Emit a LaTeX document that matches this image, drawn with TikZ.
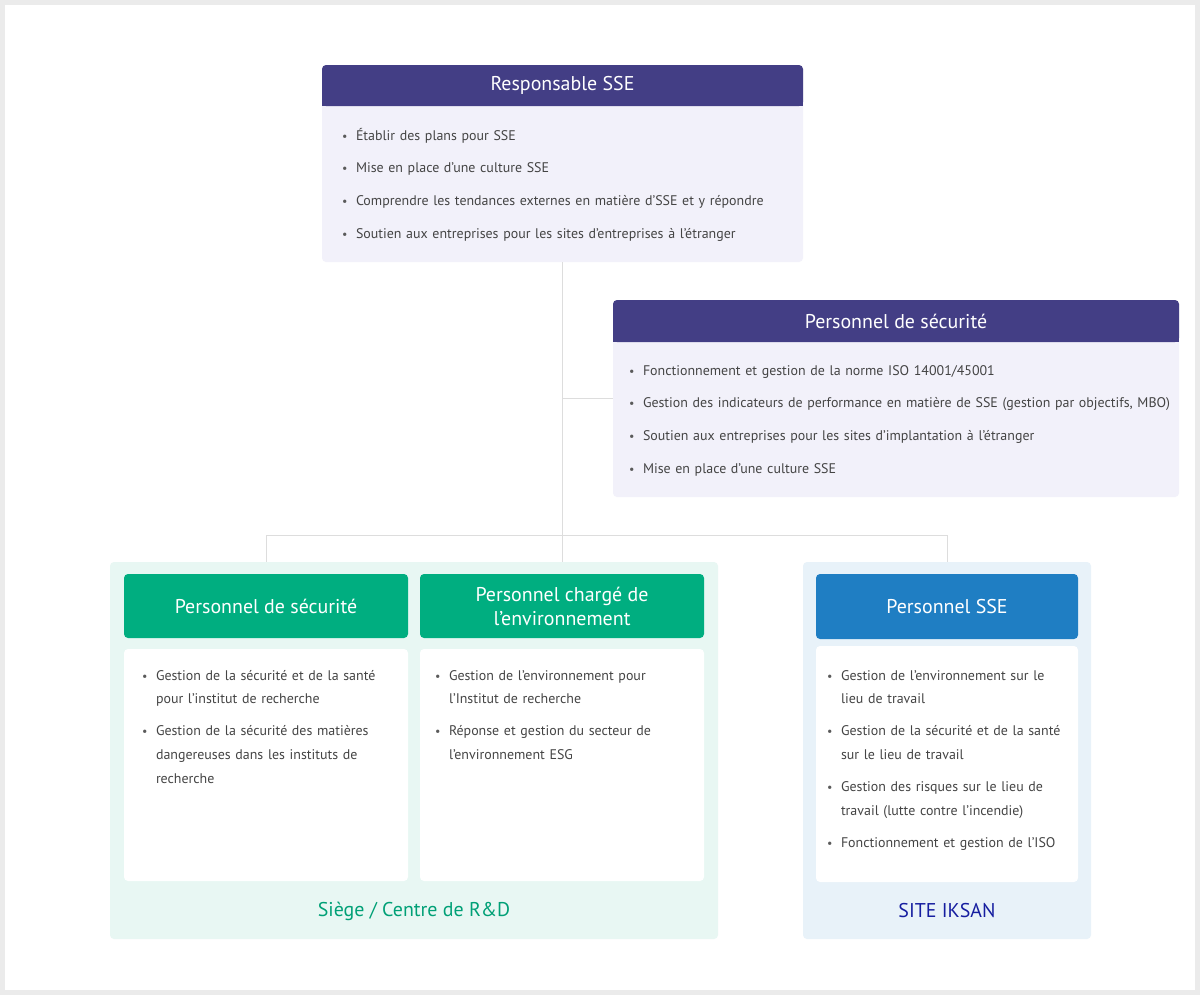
\documentclass[tikz,border=0pt]{standalone}
\usepackage{fontspec}
\setmainfont{PT Sans}
\usetikzlibrary{positioning, calc}
\definecolor{myviolet}{RGB}{67, 62,133}
\definecolor{myvioletclair}{RGB}{242,241,250}
\definecolor{myvert}{RGB}{0,174,128}
\definecolor{myvertclair}{RGB}{232,247,243}
\definecolor{myvertlabel}{RGB}{0,160,118}
\definecolor{mybleu}{RGB}{31,126,195}
\definecolor{mybleuclair}{RGB}{232,242,249}
\definecolor{mybleufonce}{RGB}{22,30,160}
\definecolor{mytexte}{RGB}{68,68,68}
\definecolor{mypuce}{RGB}{90,90,90}
\definecolor{myligne}{RGB}{221,221,221}
\definecolor{mycadre}{RGB}{235,235,235}

\newcommand{\puce}[1]{\hangindent=14bp\hangafter=1\noindent\makebox[14bp][l]{\raisebox{0bp}{\textcolor{mypuce}{\fontsize{12}{12}\selectfont\textbullet}}}\rule{0pt}{14bp}#1\par}

\begin{document}
\begin{tikzpicture}[
    x=1bp, y=-1bp,
    every node/.style = {inner sep=0pt, outer sep=0pt},
         fond/.style   = {rectangle, rounded corners=4bp, anchor=north west},
         entete/.style = {rectangle, rounded corners=4bp, text=white, align=center, font=\fontsize{20}{24}\selectfont},
         liste/.style  = {anchor=north west, text width=#1, align=left, text=mytexte, font=\fontsize{14}{24}\selectfont},
         label/.style  = {font=\fontsize{20}{24}\selectfont},
         lien/.style   = {draw=myligne, line width=1bp}
]

% cadre
\fill[mycadre] (0,0) rectangle (1200,995);
\fill[white] (5,5) rectangle (1195,990);

% Responsable SSE
\node[fond, fill=myvioletclair, minimum width=481bp, minimum height=197bp] (resp-fond) at (322,65) {};
\fill[myviolet] ($(resp-fond.north west)+(0,20)$) rectangle ($(resp-fond.north east)+(0,41)$);
\node[entete, fill=myviolet, minimum width=481bp, minimum height=41bp, below=0pt of resp-fond.north] (resp-titre) {Responsable SSE};
\node[liste=455bp] (resp-liste) at (342,126) {\setlength{\parskip}{9bp}%
    \puce{Établir des plans pour SSE}
    \puce{Mise en place d’une culture SSE}
    \puce{Comprendre les tendances externes en matière d’SSE et y répondre}
    \puce{Soutien aux entreprises pour les sites d’entreprises à l’étranger}};

% Personnel de sécurité (haut)
\node[fond, fill=myvioletclair, minimum width=566bp, minimum height=197bp] (perso-fond) at (613,300) {};
\fill[myviolet] ($(perso-fond.north west)+(0,20)$) rectangle ($(perso-fond.north east)+(0,42)$);
\node[entete, fill=myviolet, minimum width=566bp, minimum height=42bp, below=0pt of perso-fond.north] (perso-titre) {Personnel de sécurité};
\node[liste=545bp] (perso-liste) at (629,361) {\setlength{\parskip}{9bp}%
    \puce{Fonctionnement et gestion de la norme ISO 14001/45001}
    \puce{Gestion des indicateurs de performance en matière de SSE (gestion par objectifs, MBO)}
    \puce{Soutien aux entreprises pour les sites d’implantation à l’étranger}
    \puce{Mise en place d’une culture SSE}};

% Siege / Centre de R&D
\node[fond, fill=myvertclair, minimum width=608bp, minimum height=377bp] (siege) at (110,562) {};
\node[fond, entete, fill=myvert, minimum width=284bp, minimum height=64bp] (secu-titre) at (124,574) {Personnel de sécurité};
\node[fond, fill=white, minimum width=284bp, minimum height=232bp] (secu-corps) at (124,649) {};
\node[liste=262bp] (secu-liste) at (142,666) {\setlength{\parskip}{8bp}%
    \puce{Gestion de la sécurité et de la santé\newline pour l’institut de recherche}
    \puce{Gestion de la sécurité des matières\newline dangereuses dans les instituts de\newline recherche}};

\node[fond, entete, fill=myvert, minimum width=284bp, minimum height=64bp] (env-titre) at (420,574) {Personnel chargé de\\l’environnement};
\node[fond, fill=white, minimum width=284bp, minimum height=232bp] (env-corps) at (420,649) {};
\node[liste=262bp] (env-liste) at (435,666) {\setlength{\parskip}{8bp}%
    \puce{Gestion de l’environnement pour\newline l’Institut de recherche}
    \puce{Réponse et gestion du secteur de\newline l’environnement ESG}};

\node[label, text=myvertlabel] (siege-nom) at (414,911) {Siège / Centre de R\&D};

% Site Iksan
\node[fond, fill=mybleuclair, minimum width=288bp, minimum height=377bp] (iksan) at (803,562) {};
\node[fond, entete, fill=mybleu, minimum width=262bp, minimum height=65bp] (sse-titre) at (816,574) {Personnel SSE};
\node[fond, fill=white, minimum width=262bp, minimum height=236bp] (sse-corps) at (816,646) {};
\node[liste=245bp] (sse-liste) at (827,666) {\setlength{\parskip}{8bp}%
    \puce{Gestion de l’environnement sur le\newline lieu de travail}
    \puce{Gestion de la sécurité et de la santé\newline sur le lieu de travail}
    \puce{Gestion des risques sur le lieu de\newline travail (lutte contre l’incendie)}
    \puce{Fonctionnement et gestion de l’ISO}};

\node[label, text=mybleufonce] (iksan-nom) at (947,911) {SITE IKSAN};

% liens
\coordinate (branche) at ($(resp-fond.south)+(0,273)$);
\draw[lien] (resp-fond.south) -- (resp-fond.south |- siege.north);
\draw[lien] (resp-fond.south |- perso-fond.west) -- (perso-fond.west);
\draw[lien] (secu-titre.north |- branche) -- (sse-titre.north |- branche);
\draw[lien] (secu-titre.north |- branche) -- (secu-titre.north |- siege.north);
\draw[lien] (sse-titre.north |- branche) -- (sse-titre.north |- iksan.north);

\end{tikzpicture}
\end{document}
